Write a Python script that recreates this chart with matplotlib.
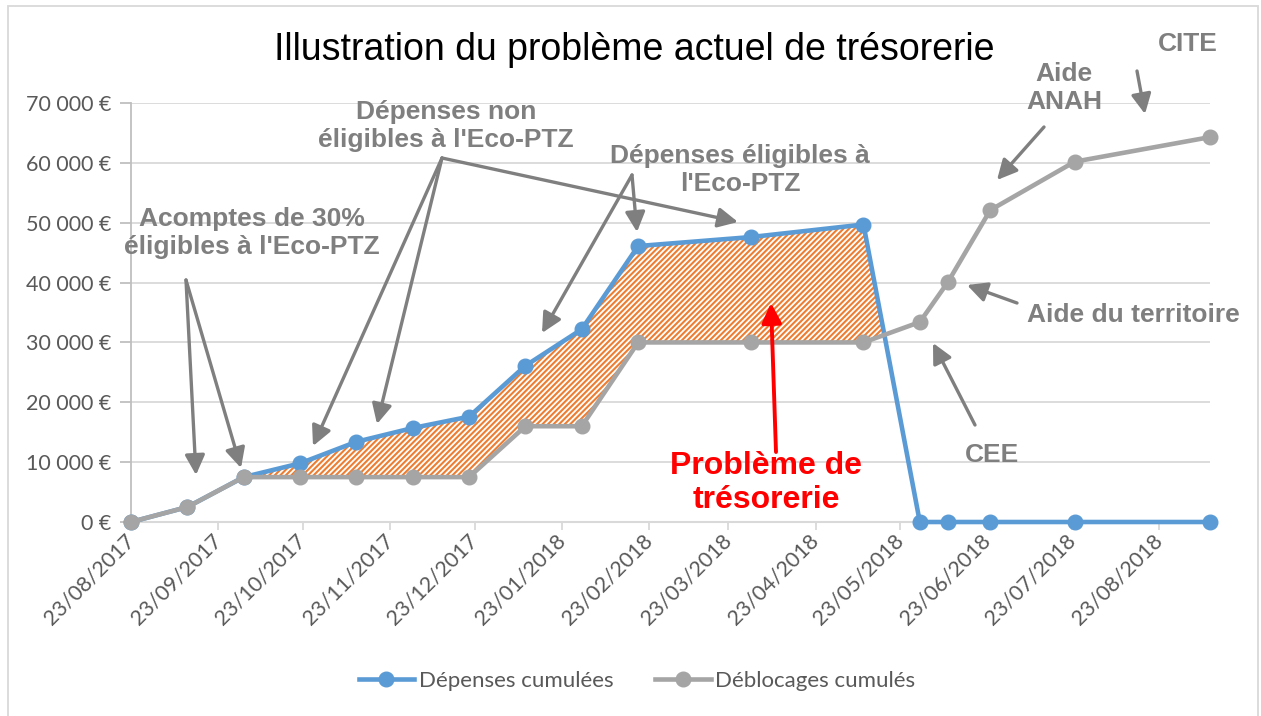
import numpy as np
import pandas as pd
import matplotlib
matplotlib.use('Agg')
import matplotlib.pyplot as plt
import matplotlib.dates as mdates
from matplotlib.patches import FancyArrowPatch, Rectangle
from matplotlib.ticker import FuncFormatter

W, H = 1261, 716

# data
dates = ['23/08/2017', '12/09/2017', '02/10/2017', '22/10/2017', '11/11/2017',
         '01/12/2017', '21/12/2017', '10/01/2018', '30/01/2018', '19/02/2018',
         '31/03/2018', '10/05/2018', '30/05/2018', '09/06/2018', '24/06/2018',
         '24/07/2018', '10/09/2018']
depenses = [0, 2500, 7500, 9800, 13400, 15700, 17600, 26100, 32200, 46100,
            47600, 49700, 0, 0, 0, 0, 0]
deblocages = [0, 2500, 7500, 7500, 7500, 7500, 7500, 16000, 16000, 30000,
              30000, 30000, 33400, 40100, 52100, 60200, 64300]
tick_labels = ['23/08/2017', '23/09/2017', '23/10/2017', '23/11/2017',
               '23/12/2017', '23/01/2018', '23/02/2018', '23/03/2018',
               '23/04/2018', '23/05/2018', '23/06/2018', '23/07/2018',
               '23/08/2018']
yticks = np.arange(0, 70001, 10000)

x = mdates.date2num(pd.to_datetime(dates, dayfirst=True))
xt = mdates.date2num(pd.to_datetime(tick_labels, dayfirst=True))
dep = np.array(depenses, dtype=float)
deb = np.array(deblocages, dtype=float)

BLUE = '#5B9BD5'
GREY = '#A5A5A5'
ORANGE = '#ED7D31'
ANN = '#7F7F7F'
CAL = ['Lato', 'DejaVu Sans']
ARIAL = ['Liberation Sans', 'DejaVu Sans']

plt.rcParams['hatch.linewidth'] = 1.5
plt.rcParams['hatch.color'] = ORANGE

fig = plt.figure(figsize=(W / 100, H / 100), dpi=100)
ax = fig.add_axes([131 / W, 1 - 522 / H, (1210 - 131) / W, (522 - 103) / H])

# hatched gap between spending and funds received
ax.fill_between(x, dep, deb, where=dep >= deb, interpolate=True,
                facecolor='white', edgecolor=ORANGE, hatch='//////',
                linewidth=0, zorder=2)

ax.plot(x, dep, color=BLUE, lw=3.3, marker='o', ms=10.5, zorder=3,
        clip_on=False, solid_joinstyle='round', label='Dépenses cumulées')
ax.plot(x, deb, color=GREY, lw=3.3, marker='o', ms=10.5, zorder=4,
        clip_on=False, solid_joinstyle='round', label='Déblocages cumulés')

ax.set_xlim(x[0], x[-1])
ax.set_ylim(0, 70000)
ax.set_yticks(yticks)
ax.yaxis.set_major_formatter(FuncFormatter(lambda v, p: f"{v:,.0f} €".replace(',', ' ')))
ax.set_xticks(xt)
ax.set_xticklabels(tick_labels, rotation=45, ha='right', va='center',
                   rotation_mode='anchor', fontsize=15.5, color='#595959',
                   family=CAL)
for lab in ax.get_yticklabels():
    lab.set_family(CAL)

ax.tick_params(axis='x', length=6, width=1.3, color='#D9D9D9', pad=5)
ax.tick_params(axis='y', length=8, width=1.3, color='#BFBFBF', pad=6,
               labelsize=15.5, labelcolor='#595959')
for s in ['top', 'right']:
    ax.spines[s].set_visible(False)
ax.spines['left'].set_color('#BFBFBF')
ax.spines['left'].set_linewidth(1.3)
ax.spines['bottom'].set_color('#D9D9D9')
ax.spines['bottom'].set_linewidth(1.5)
ax.yaxis.grid(True, color='#D9D9D9', lw=1.3)
ax.set_axisbelow(True)


def fp(px, py):
    return (px / W, 1 - py / H)


def label(px, py, s, size=19, color=ANN):
    fig.text(*fp(px, py), s, ha='center', va='center', fontsize=size,
             fontweight='bold', color=color, family=ARIAL, linespacing=1.2)


def arrow(tail, head, color=ANN, lw=2.4):
    fig.add_artist(FancyArrowPatch(fp(*tail), fp(*head),
                                   transform=fig.transFigure,
                                   arrowstyle='-|>,head_length=12,head_width=6',
                                   mutation_scale=1, color=color, lw=lw,
                                   shrinkA=0, shrinkB=0, zorder=5))


fig.text(*fp(634, 50), 'Illustration du problème actuel de trésorerie',
         ha='center', va='center', fontsize=27, family=ARIAL, color='black')

label(252, 233, "Acomptes de 30%\néligibles à l'Eco-PTZ")
arrow((186, 280), (196, 475))
arrow((186, 280), (241, 468))

label(446, 126, "Dépenses non\néligibles à l'Eco-PTZ")
arrow((442, 158), (313, 446))
arrow((442, 158), (377, 424))
arrow((442, 158), (738, 222))

label(740, 170, "Dépenses éligibles à\nl'Eco-PTZ")
arrow((632, 175), (542, 333))
arrow((632, 175), (637, 232))

label(766, 483, "Problème de\ntrésorerie", size=23, color='#FF0000')
arrow((776, 452), (771, 303), color='#FF0000', lw=2.8)

label(992, 455, "CEE")
arrow((975, 425), (933, 343))

label(1133, 315, "Aide du territoire")
arrow((1017, 303), (967, 285))

label(1064, 88, "Aide\nANAH")
arrow((1044, 127), (997, 180))

label(1188, 44, "CITE")
arrow((1137, 71), (1145, 114))

fig.legend(loc='center', bbox_to_anchor=fp(637, 681), ncol=2, frameon=False,
           prop={'family': CAL, 'size': 16}, labelcolor='#595959',
           handlelength=2.5, handletextpad=0.2, columnspacing=1.9)

fig.add_artist(Rectangle((8 / W, -0.05), (1258 - 8) / W, 1 - 6 / H + 0.05,
                         transform=fig.transFigure, fill=False,
                         edgecolor='#D9D9D9', lw=1.3))

fig.savefig('out.png', dpi=100, facecolor='white')
